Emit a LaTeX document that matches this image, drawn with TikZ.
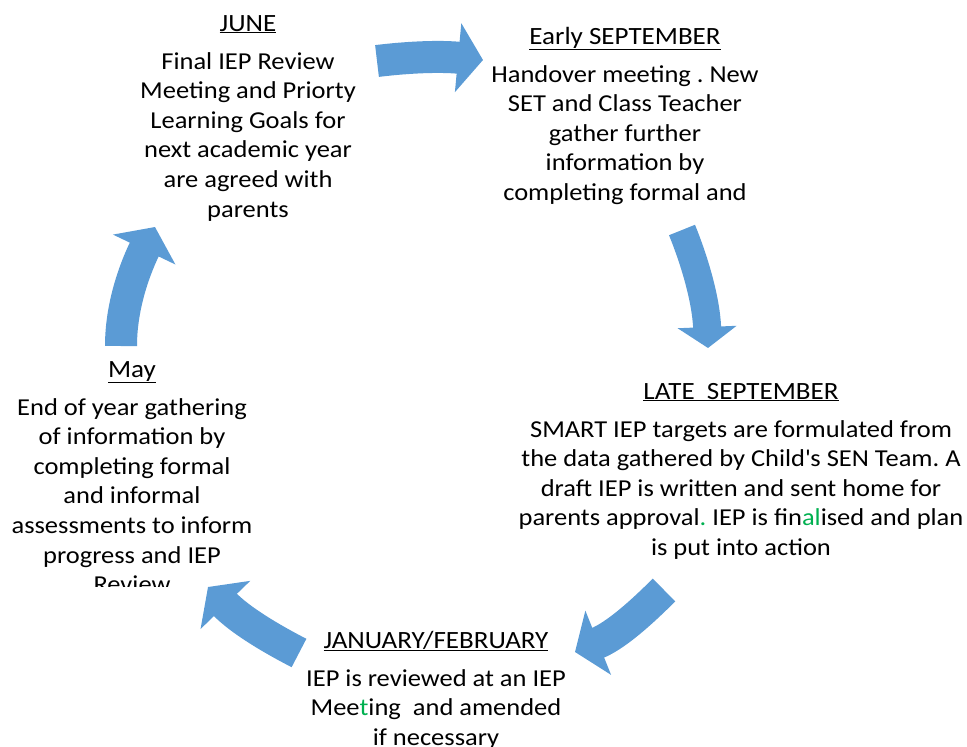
\documentclass[tikz,border=0pt]{standalone}
\usepackage{fontspec}
\setmainfont{Carlito}[FakeStretch=1.09]
\usetikzlibrary{positioning,arrows.meta}
\definecolor{cycleblue}{HTML}{5B9BD5}
\definecolor{notegreen}{HTML}{00B050}
\frenchspacing
\tikzset{
  month/.style = {anchor=base, inner sep=0pt, font=\fontsize{24.8}{29.6}\selectfont},
  note/.style  = {anchor=north, inner sep=0pt, align=center, font=\fontsize{24.3}{29.6}\selectfont},
  cycle/.style = {draw=cycleblue, line width=32pt, -{Triangle[width=68pt,length=25pt]}},
}

\begin{document}
\begin{tikzpicture}[x=1pt, y=-1pt]
  \useasboundingbox (0,0) rectangle (967,747);
  % month headings
  \node[month] (junhead)  at (248,31)  {\underline{JUNE}};
  \node[month] (sephead)  at (625,44)  {\underline{Early SEPTEMBER}};
  \node[month] (latehead) at (741,399) {\underline{LATE\ \ SEPTEMBER}};
  \node[month] (janhead)  at (436,648) {\underline{JANUARY/FEBRUARY}};
  \node[month] (mayhead)  at (132,377) {\underline{May}};
  % what happens in each step
  \node[note, below=21pt of junhead.base] (jun) {Final IEP Review\\Meeting and Priorty\\Learning Goals for\\next academic year\\are agreed with\\parents};
  \node[note, below=21pt of sephead.base] (sep) {Handover meeting . New\\SET and Class Teacher\\gather further\\information by\\completing formal and};
  \node[note, below=21pt of latehead.base] (late) {SMART IEP targets are formulated from\\the data gathered by Child\textquotesingle s SEN Team. A\\draft IEP is written and sent home for\\parents approval\textcolor{notegreen}{.} IEP is fin\textcolor{notegreen}{al}ised and plan\\is put into action};
  \node[note, below=21pt of janhead.base] (jan) {IEP is reviewed at an IEP\\Mee\textcolor{notegreen}{t}ing\ \ and amended\\if necessary};
  \begin{scope}
    \clip (0,0) rectangle (300,586);
    \node[note, below=21pt of mayhead.base] (may) {End of year gathering\\of information by\\completing formal\\and informal\\assessments to inform\\progress and IEP\\Review};
  \end{scope}
  % arrows of the cycle
  \coordinate (a1s) at (377,61);  \coordinate (a1e) at (483,60);
  \coordinate (a2s) at (682,230); \coordinate (a2e) at (708,348);
  \coordinate (a3s) at (664,590); \coordinate (a3e) at (575,652);
  \coordinate (a4s) at (299,653); \coordinate (a4e) at (208,587);
  \coordinate (a5s) at (121,346); \coordinate (a5e) at (155,227);
  \draw[cycle] (a1s) .. controls (410,57) and (440,56) .. (a1e);
  \draw[cycle, line width=28pt, -{Triangle[width=58pt,length=21pt]}] (a2s) .. controls (695,262) and (706,300) .. (a2e);
  \draw[cycle] (a3s) .. controls (640,614) and (615,636) .. (a3e);
  \draw[cycle] (a4s) .. controls (270,638) and (240,620) .. (a4e);
  \draw[cycle] (a5s) .. controls (121,310) and (132,275) .. (a5e);
\end{tikzpicture}
\end{document}
